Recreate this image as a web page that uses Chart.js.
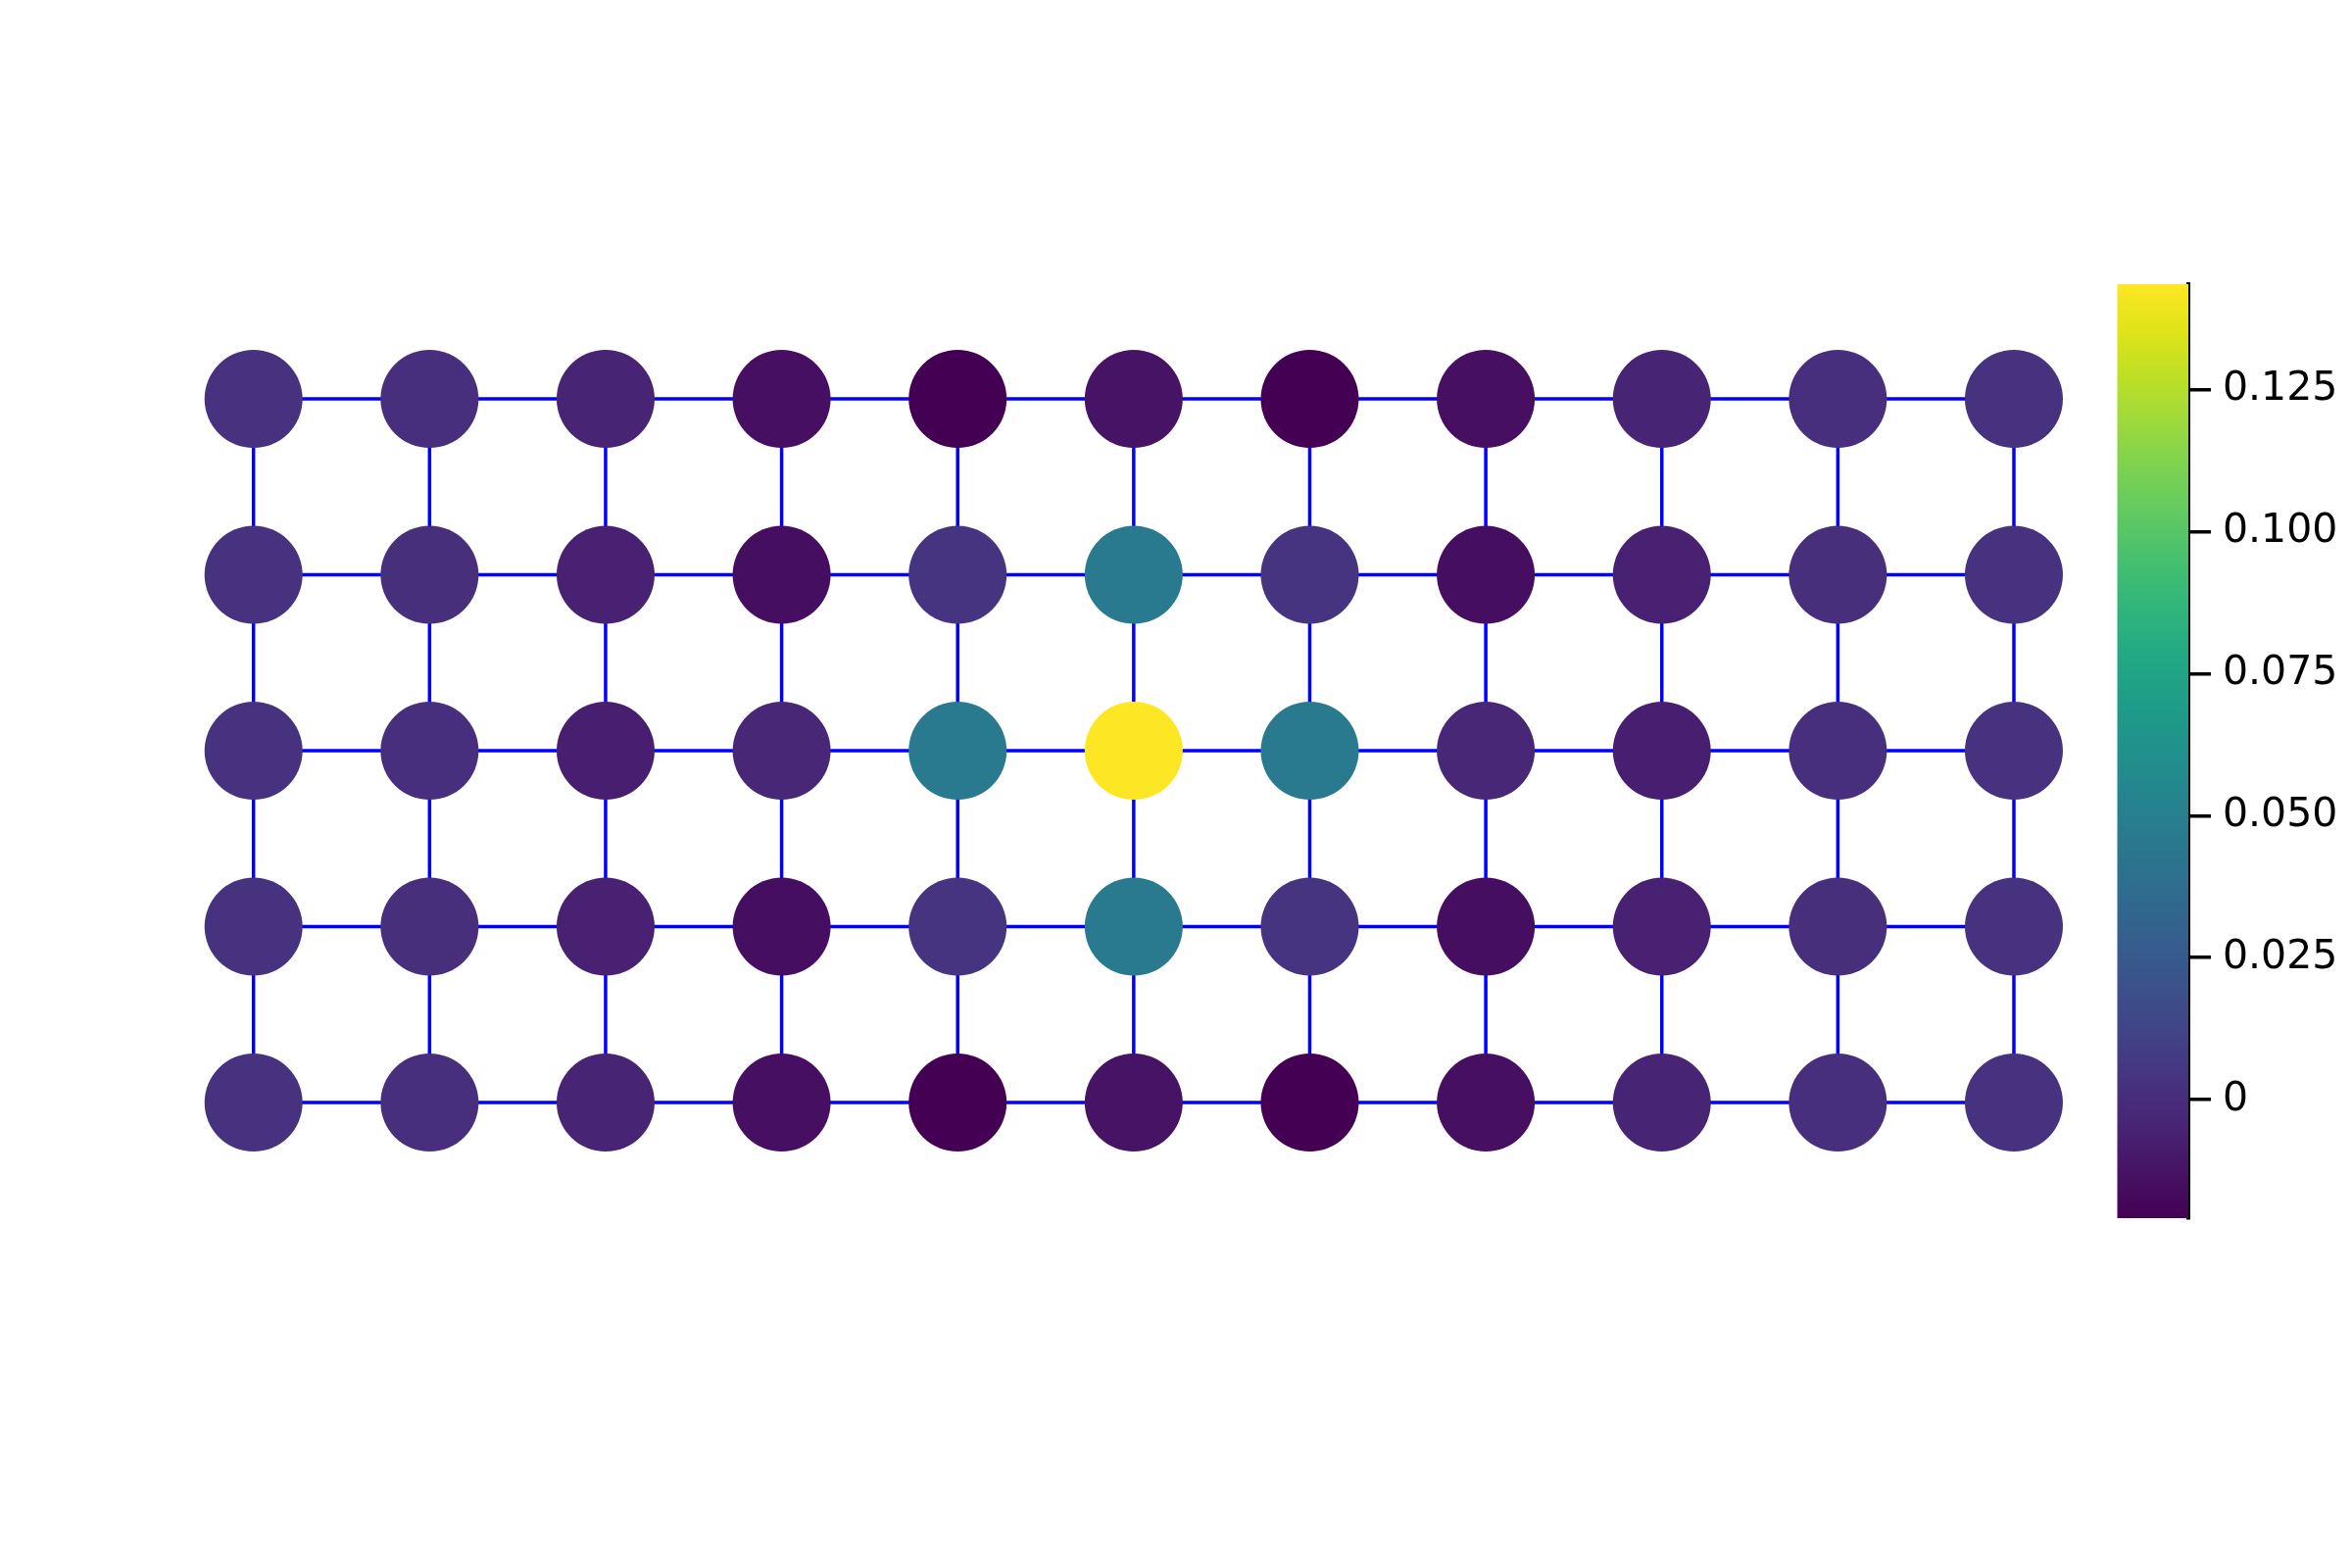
<!DOCTYPE html>
<html><head><meta charset="utf-8">
<script src="https://cdn.jsdelivr.net/npm/chart.js@4"></script>
<style>html,body{margin:0;padding:0;background:#fff}</style>
</head><body>
<canvas id="c" width="2400" height="1600"></canvas>
<script>
// ---- data ----
const columns = [0,1,2,3,4,5,6,7,8,9,10];
const rowsY = [4,3,2,1,0]; // top row first
const row0 = [0.0030, 0.0013, -0.0045, -0.0143, -0.0209, -0.0127, -0.0209, -0.0143, -0.0045, 0.0013, 0.0030];
const row1 = [0.0030, 0.0010, -0.0061, -0.0151, 0.0040, 0.0465, 0.0040, -0.0151, -0.0061, 0.0010, 0.0030];
const row2 = [0.0030, 0.0012, -0.0069, -0.0028, 0.0465, 0.1436, 0.0465, -0.0028, -0.0069, 0.0012, 0.0030];
const row3 = [0.0030, 0.0010, -0.0061, -0.0151, 0.0040, 0.0465, 0.0040, -0.0151, -0.0061, 0.0010, 0.0030];
const row4 = [0.0030, 0.0013, -0.0045, -0.0143, -0.0209, -0.0127, -0.0209, -0.0143, -0.0045, 0.0013, 0.0030];
const gridRows = [row0,row1,row2,row3,row4];
const cbTicks = [0, 0.025, 0.05, 0.075, 0.1, 0.125];
const cbTickLabels = ["0","0.025","0.050","0.075","0.100","0.125"];
const cbMin = -0.0209, cbMax = 0.1436;

// ---- viridis colormap ----
const VIR = ["#440154","#471365","#482475","#463480","#414487","#3b528b","#355f8d","#2f6c8e","#2a788e","#25848e","#21918c","#1e9c89","#22a884","#2fb47c","#44bf70","#5ec962","#7ad151","#9bd93c","#bddf26","#dfe318","#fde725"];
function hex2rgb(h){return [parseInt(h.substr(1,2),16),parseInt(h.substr(3,2),16),parseInt(h.substr(5,2),16)];}
const VIRrgb = VIR.map(hex2rgb);
function viridis(t){
  t = Math.max(0, Math.min(1, t));
  const f = t*(VIR.length-1); const i = Math.min(Math.floor(f), VIR.length-2); const u = f-i;
  const a = VIRrgb[i], b = VIRrgb[i+1];
  return `rgb(${Math.round(a[0]+(b[0]-a[0])*u)},${Math.round(a[1]+(b[1]-a[1])*u)},${Math.round(a[2]+(b[2]-a[2])*u)})`;
}
const colorOf = v => viridis((v-cbMin)/(cbMax-cbMin));

// ---- datasets ----
const datasets = [];
rowsY.forEach(r => datasets.push({type:'scatter', data: columns.map(c=>({x:c,y:r})), showLine:true, borderColor:'#0000ff', borderWidth:3.5, pointRadius:0, order:2}));
columns.forEach(c => datasets.push({type:'scatter', data: rowsY.map(r=>({x:c,y:r})), showLine:true, borderColor:'#0000ff', borderWidth:3.5, pointRadius:0, order:2}));
const nodePts = [], nodeCols = [];
gridRows.forEach((vals, ri) => vals.forEach((v, ci) => { nodePts.push({x:columns[ci], y:rowsY[ri], v}); nodeCols.push(colorOf(v)); }));
datasets.push({type:'scatter', data: nodePts, pointRadius:50, pointHoverRadius:50, pointBackgroundColor: nodeCols, pointBorderWidth:0, borderWidth:0, order:0});

const colorbarPlugin = {
  id:'colorbar',
  beforeDatasetsDraw(chart){
    const s = chart.scales.cb, ctx = chart.ctx;
    const top = s.getPixelForValue(cbMax), bot = s.getPixelForValue(cbMin);
    const g = ctx.createLinearGradient(0, bot, 0, top);
    VIR.forEach((c,i)=>g.addColorStop(i/(VIR.length-1), c));
    ctx.save(); ctx.fillStyle = g;
    ctx.fillRect(s.left-72.5, top, 72.5, bot-top);
    ctx.restore();
  }
};

new Chart(document.getElementById('c'), {
  data: {datasets},
  plugins:[colorbarPlugin],
  options: {
    responsive:false, animation:false, devicePixelRatio:1,
    layout:{padding:{left:100, right:0, top:290, bottom:357}},
    plugins:{legend:{display:false}, tooltip:{enabled:false}},
    events:[],
    scales:{
      x:{type:'linear', display:false, min:-0.8835, max:10.991},
      y:{type:'linear', display:false, min:-0.657, max:4.652},
      cb:{type:'linear', position:'right', min:cbMin, max:cbMax,
        afterBuildTicks: s => { s.ticks = cbTicks.map(v=>({value:v})); },
        afterFit: s => { s.width = 167; },
        grid:{drawOnChartArea:false, drawTicks:true, tickLength:23, color:'#000', lineWidth:3.5},
        border:{display:true, color:'#000', width:4},
        ticks:{color:'#000', font:{family:'DejaVu Sans', size:41}, padding:12, autoSkip:false,
          callback:(v,i)=>cbTickLabels[i]}
      }
    }
  }
});
</script>
</body></html>
